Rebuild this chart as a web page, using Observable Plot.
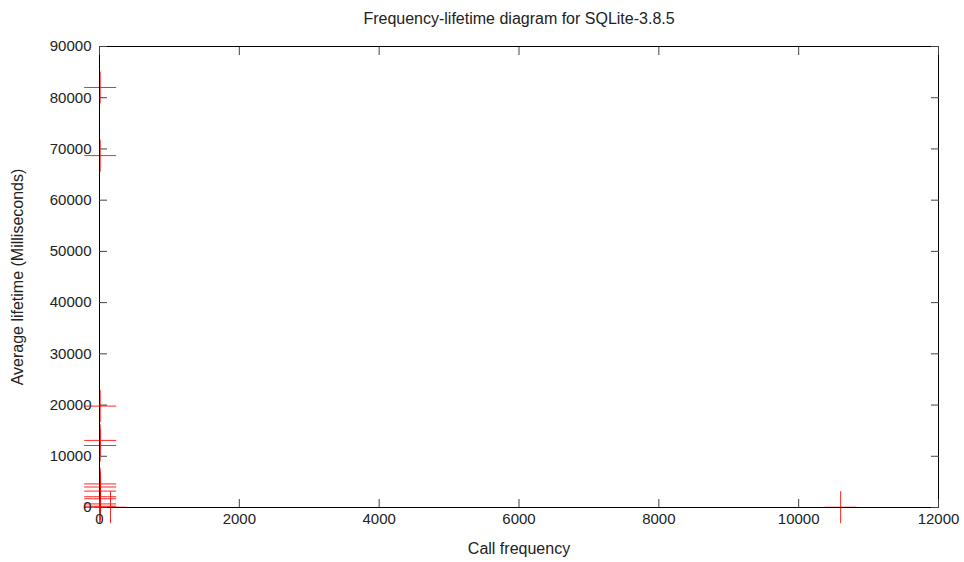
<!DOCTYPE html>
<html>
<head>
<meta charset="utf-8">
<script src="https://cdn.jsdelivr.net/npm/d3@7"></script>
<script src="https://cdn.jsdelivr.net/npm/@observablehq/plot@0.6"></script>
<style>
  html, body { margin: 0; padding: 0; background: #fff; }
  svg { font-family: "Liberation Sans", Arial, sans-serif; }
</style>
</head>
<body>
<div id="chart"></div>
<script>
const titleText = "Frequency-lifetime diagram for SQLite-3.8.5";
const xLabel = "Call frequency";
const yLabel = "Average lifetime (Milliseconds)";
const xTicks = [0, 2000, 4000, 6000, 8000, 10000, 12000];
const yTicks = [0, 10000, 20000, 30000, 40000, 50000, 60000, 70000, 80000, 90000];
const callFrequency = [10, 10, 10, 10, 10, 10, 10, 10, 10, 10, 10, 10, 3, 157, 10600];
const avgLifetime  = [82000, 68700, 19800, 13100, 12100, 4600, 4000, 3200, 2100, 1700, 700, 250, 30, 60, 50];

const points = callFrequency.map((x, i) => ({x, y: avgLifetime[i]}));

const plusSymbol = {
  draw(ctx, size) {
    const r = Math.sqrt(size / Math.PI);
    ctx.moveTo(-r, 0); ctx.lineTo(r, 0);
    ctx.moveTo(0, -r); ctx.lineTo(0, r);
  }
};

const fmt = d3.format("d");

const chart = Plot.plot({
  width: 964,
  height: 562,
  marginLeft: 99,
  marginRight: 26,
  marginTop: 46,
  marginBottom: 55,
  style: {fontFamily: '"Liberation Sans", Arial, sans-serif', fontSize: "15px", color: "#222", background: "#fff"},
  x: {domain: [0, 12000]},
  y: {domain: [0, 90000]},
  marks: [
    Plot.dot(points, {x: "x", y: "y", r: 16, symbol: plusSymbol, stroke: "red", strokeWidth: 1, fill: "none", strokeOpacity: 0.85}),
    Plot.frame({stroke: "#000", strokeWidth: 1}),
    Plot.axisY(yTicks, {anchor: "left", tickSize: -8, tickPadding: 16, tickFormat: fmt, label: null, stroke: "#444", fill: "#222", fontSize: 15}),
    Plot.axisY(yTicks, {anchor: "right", tickSize: -8, tickFormat: () => "", label: null, stroke: "#444"}),
    Plot.axisX(xTicks, {anchor: "bottom", tickSize: -8, tickPadding: 14, tickFormat: fmt, label: null, stroke: "#444", fill: "#222", fontSize: 15}),
    Plot.axisX(xTicks, {anchor: "top", tickSize: -8, tickFormat: () => "", label: null, stroke: "#444"}),
    Plot.text([titleText], {frameAnchor: "top", dy: -34, fontSize: 16, fill: "#222"}),
    Plot.text([xLabel], {frameAnchor: "bottom", dy: 46, fontSize: 16, fill: "#222"}),
    Plot.text([yLabel], {frameAnchor: "left", textAnchor: "middle", dx: -82, rotate: -90, fontSize: 16, fill: "#222"})
  ]
});
document.getElementById("chart").appendChild(chart);
</script>
</body>
</html>
